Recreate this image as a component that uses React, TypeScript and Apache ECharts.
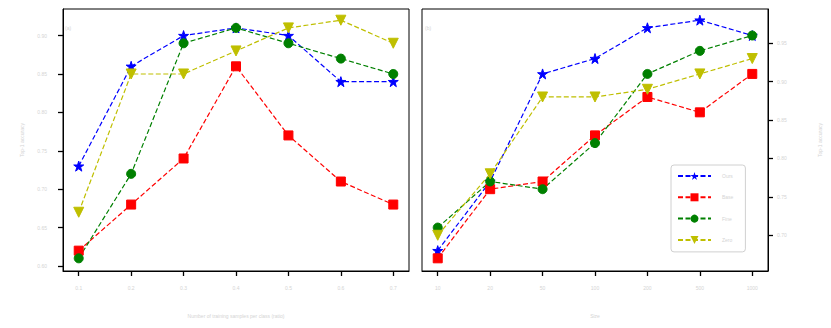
import React, { useEffect, useRef } from "react";
import * as echarts from "echarts";

const seriesNames = ["Ours", "Base", "Fine", "Zero"];
const leftXLabels = ["0.1", "0.2", "0.3", "0.4", "0.5", "0.6", "0.7"];
const rightXLabels = ["10", "20", "50", "100", "200", "500", "1000"];
const leftYTicks = [0.6, 0.65, 0.7, 0.75, 0.8, 0.85, 0.9];
const rightYTicks = [0.7, 0.75, 0.8, 0.85, 0.9, 0.95];

const leftBlue = [0.73, 0.86, 0.9, 0.91, 0.9, 0.84, 0.84];
const leftRed = [0.62, 0.68, 0.74, 0.86, 0.77, 0.71, 0.68];
const leftGreen = [0.61, 0.72, 0.89, 0.91, 0.89, 0.87, 0.85];
const leftYellow = [0.67, 0.85, 0.85, 0.88, 0.91, 0.92, 0.89];

const rightBlue = [0.68, 0.77, 0.91, 0.93, 0.97, 0.98, 0.96];
const rightRed = [0.67, 0.76, 0.77, 0.83, 0.88, 0.86, 0.91];
const rightGreen = [0.71, 0.77, 0.76, 0.82, 0.91, 0.94, 0.96];
const rightYellow = [0.7, 0.78, 0.88, 0.88, 0.89, 0.91, 0.93];

const STAR =
  "path://M100 0 L122.45 69.1 L195.1 69.1 L136.3 111.8 L158.8 180.9 L100 138.2 L41.2 180.9 L63.7 111.8 L4.9 69.1 L77.55 69.1 Z";

const styles = [
  { color: "#0000ff", symbol: STAR, size: 10, rotate: 0 },
  { color: "#ff0000", symbol: "rect", size: 9, rotate: 0 },
  { color: "#008000", symbol: "circle", size: 9, rotate: 0 },
  { color: "#bfbf00", symbol: "triangle", size: 10, rotate: 180 },
];

const faint = "#d4d4d4";
const idx = [0, 1, 2, 3, 4, 5, 6];
const LEFT_Y = [0.5935, 0.9346];
const RIGHT_Y = [0.6535, 0.9945];
const axisLine = { show: true, onZero: false, lineStyle: { color: "#000", width: 1 } };
const axisTick = (vals: number[]) => ({
  show: true,
  inside: false,
  length: 5,
  customValues: vals,
  lineStyle: { color: "#000", width: 1.3 },
});

export default function App() {
  const ref = useRef<HTMLDivElement>(null);
  useEffect(() => {
    if (!ref.current) return;
    const chart = echarts.init(ref.current, null, { renderer: "svg" });
    const leftData = [leftBlue, leftRed, leftGreen, leftYellow];
    const rightData = [rightBlue, rightRed, rightGreen, rightYellow];

    const mkSeries = (data: number[][], g: number) =>
      data.map((vals, i) => ({
        name: seriesNames[i],
        type: "line",
        xAxisIndex: g,
        yAxisIndex: g,
        data: vals.map((v, j) => [j, v]),
        symbol: styles[i].symbol,
        symbolSize: styles[i].size,
        symbolRotate: styles[i].rotate,
        lineStyle: { color: styles[i].color, width: 1.2, type: [5, 2.5] },
        itemStyle: { color: styles[i].color, borderColor: styles[i].color },
        emphasis: { disabled: true },
      }));

    const xAxisBase = (labels: string[], g: number, name: string) => ({
      type: "value",
      gridIndex: g,
      position: "bottom",
      min: -0.3,
      max: 6.3,
      axisLine,
      splitLine: { show: false },
      axisTick: axisTick(idx),
      axisLabel: {
        customValues: idx,
        formatter: (v: number) => labels[Math.round(v)] ?? "",
        color: faint,
        fontSize: 5,
        margin: 14,
      },
      name,
      nameLocation: "middle",
      nameGap: 42,
      nameTextStyle: { color: faint, fontSize: 5 },
    });

    chart.setOption({
      animation: false,
      grid: [
        { left: 63, top: 9, width: 346, height: 262, show: true, borderColor: "#000", borderWidth: 1 },
        { left: 422, top: 9, width: 346, height: 262, show: true, borderColor: "#000", borderWidth: 1 },
      ],
      xAxis: [
        xAxisBase(leftXLabels, 0, "Number of training samples per class (ratio)"),
        xAxisBase(rightXLabels, 1, "Size"),
      ],
      yAxis: [
        {
          type: "value",
          gridIndex: 0,
          position: "left",
          min: LEFT_Y[0],
          max: LEFT_Y[1],
          axisLine,
          splitLine: { show: false },
          axisTick: axisTick(leftYTicks),
          axisLabel: {
            customValues: leftYTicks,
            formatter: (v: number) => v.toFixed(2),
            color: faint,
            fontSize: 5,
            margin: 16,
          },
          name: "Top-1 accuracy",
          nameLocation: "middle",
          nameGap: 39,
          nameTextStyle: { color: faint, fontSize: 5 },
        },
        {
          type: "value",
          gridIndex: 1,
          position: "right",
          min: RIGHT_Y[0],
          max: RIGHT_Y[1],
          axisLine,
          splitLine: { show: false },
          axisTick: axisTick(rightYTicks),
          axisLabel: {
            customValues: rightYTicks,
            formatter: (v: number) => v.toFixed(2),
            color: faint,
            fontSize: 5,
            margin: 9,
          },
          name: "Top-1 accuracy",
          nameLocation: "middle",
          nameGap: 49,
          nameRotate: 90,
          nameTextStyle: { color: faint, fontSize: 5 },
        },
      ],
      legend: {
        data: seriesNames,
        orient: "vertical",
        left: 671,
        top: 165,
        itemWidth: 33,
        itemHeight: 10,
        itemGap: 13.3,
        padding: [7, 12, 8, 6],
        borderColor: "#d0d0d0",
        borderWidth: 1,
        borderRadius: 3,
        backgroundColor: "#fff",
        textStyle: { color: faint, fontSize: 5, padding: [0, 0, 0, 6] },
        selectedMode: false,
      },
      graphic: [
        { type: "text", left: 65, top: 25, style: { text: "(a)", fill: faint, fontSize: 5 } },
        { type: "text", left: 425, top: 25, style: { text: "(b)", fill: faint, fontSize: 5 } },
      ],
      series: [...mkSeries(leftData, 0), ...mkSeries(rightData, 1)],
    });
    return () => chart.dispose();
  }, []);
  return (
    <div
      ref={ref}
      style={{ position: "fixed", left: 0, top: 0, width: 831, height: 328, background: "#fff" }}
    />
  );
}
